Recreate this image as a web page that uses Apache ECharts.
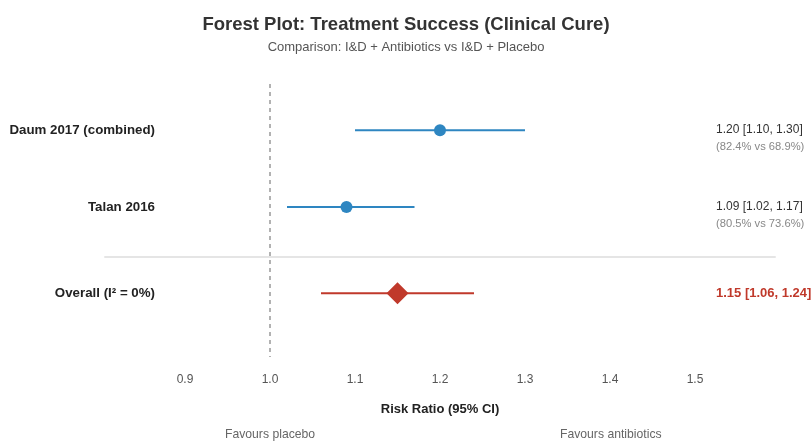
<!DOCTYPE html>
<html>
<head>
<meta charset="utf-8">
<script src="https://cdn.jsdelivr.net/npm/echarts@6/dist/echarts.min.js"></script>
<style>
  html, body { margin: 0; padding: 0; background: #fff; }
  #chart { width: 812px; height: 443px; }
</style>
</head>
<body>
<div id="chart"></div>
<script>
// study rows
var studies = ['Daum 2017 (combined)', 'Talan 2016'];
var rr = [1.20, 1.09];
var lower = [1.10, 1.02];
var upper = [1.30, 1.17];
var rates = ['(82.4% vs 68.9%)', '(80.5% vs 73.6%)'];
var rowPos = [1, 2];

// pooled estimate
var overallLabel = 'Overall (I\u00b2 = 0%)';
var overall = [1.06, 1.24, 1.15];
var overallPos = 3.12;
var sepPos = 2.65;

var xTicks = [0.9, 1.0, 1.1, 1.2, 1.3, 1.4, 1.5];

var BLUE = '#2e86c1';
var RED = '#c0392b';
var FONT = '"Liberation Sans", Arial, sans-serif';

function fmt(v) { return v.toFixed(2); }

var studyData = studies.map(function (s, i) {
    return [lower[i], upper[i], rr[i], rowPos[i]];
});

function renderStudy(params, api) {
    var i = params.dataIndex;
    var y = api.value(3);
    var a = api.coord([api.value(0), y]);
    var b = api.coord([api.value(1), y]);
    var c = api.coord([api.value(2), y]);
    var cs = params.coordSys;
    return {
        type: 'group',
        children: [
            { type: 'line', shape: { x1: a[0], y1: a[1], x2: b[0], y2: b[1] },
              style: { stroke: BLUE, lineWidth: 2 } },
            { type: 'circle', shape: { cx: c[0], cy: c[1], r: 6 },
              style: { fill: BLUE } },
            { type: 'text', x: cs.x + 55, y: c[1],
              style: { text: studies[i], align: 'right', verticalAlign: 'middle',
                       font: 'bold 13.3px ' + FONT, fill: '#222' } },
            { type: 'text', x: cs.x + 616, y: c[1],
              style: { text: fmt(rr[i]) + ' [' + fmt(lower[i]) + ', ' + fmt(upper[i]) + ']',
                       align: 'left', verticalAlign: 'middle',
                       font: '12px ' + FONT, fill: '#333' } },
            { type: 'text', x: cs.x + 616, y: c[1] + 17,
              style: { text: rates[i], align: 'left', verticalAlign: 'middle',
                       font: '11.2px ' + FONT, fill: '#888' } }
        ]
    };
}

function renderOverall(params, api) {
    var y = api.value(3);
    var a = api.coord([api.value(0), y]);
    var b = api.coord([api.value(1), y]);
    var c = api.coord([api.value(2), y]);
    var cs = params.coordSys;
    var d = 11;
    return {
        type: 'group',
        children: [
            { type: 'line', shape: { x1: a[0], y1: a[1], x2: b[0], y2: b[1] },
              style: { stroke: RED, lineWidth: 2 } },
            { type: 'polygon', shape: { points: [[c[0] - d, c[1]], [c[0], c[1] - d], [c[0] + d, c[1]], [c[0], c[1] + d]] },
              style: { fill: RED } },
            { type: 'text', x: cs.x + 55, y: c[1],
              style: { text: overallLabel, align: 'right', verticalAlign: 'middle',
                       font: 'bold 13.3px ' + FONT, fill: '#222' } },
            { type: 'text', x: cs.x + 616, y: c[1],
              style: { text: fmt(overall[2]) + ' [' + fmt(overall[0]) + ', ' + fmt(overall[1]) + ']',
                       align: 'left', verticalAlign: 'middle',
                       font: 'bold 13px ' + FONT, fill: RED } }
        ]
    };
}

var chart = echarts.init(document.getElementById('chart'));

var option = {
    backgroundColor: '#fff',
    animation: false,
    title: {
        text: 'Forest Plot: Treatment Success (Clinical Cure)',
        subtext: 'Comparison: I&D + Antibiotics vs I&D + Placebo',
        left: 'center',
        top: 10,
        itemGap: 7,
        textStyle: { fontFamily: FONT, fontSize: 18.5, fontWeight: 'bold', color: '#333' },
        subtextStyle: { fontFamily: FONT, fontSize: 13, color: '#555' }
    },
    grid: { left: 100, right: 32, top: 84, bottom: 86 },
    xAxis: {
        type: 'value',
        min: 0.8,
        max: 1.6,
        interval: 0.1,
        name: 'Risk Ratio (95% CI)',
        nameLocation: 'middle',
        nameGap: 46,
        nameTextStyle: { fontFamily: FONT, fontSize: 13, fontWeight: 'bold', color: '#222' },
        axisLine: { show: false },
        axisTick: { show: false },
        splitLine: { show: false },
        axisLabel: {
            margin: 17,
            fontFamily: FONT,
            fontSize: 12,
            color: '#555',
            showMinLabel: false,
            showMaxLabel: false,
            formatter: function (v) {
                var t = Math.round(v * 10) / 10;
                return xTicks.indexOf(t) >= 0 ? t.toFixed(1) : '';
            }
        }
    },
    yAxis: {
        type: 'value',
        inverse: true,
        min: 0.4,
        max: 3.95,
        show: false
    },
    series: [
        {
            type: 'line',
            data: [[0.805, sepPos], [1.595, sepPos]],
            symbol: 'none',
            silent: true,
            lineStyle: { color: '#dddddd', width: 1.5 },
            markLine: {
                silent: true,
                symbol: 'none',
                label: { show: false },
                lineStyle: { color: '#999', type: [4, 4], width: 1.5 },
                data: [{ xAxis: 1.0 }]
            }
        },
        {
            type: 'custom',
            renderItem: renderStudy,
            data: studyData,
            z: 3
        },
        {
            type: 'custom',
            renderItem: renderOverall,
            data: [[overall[0], overall[1], overall[2], overallPos]],
            z: 3
        }
    ],
    graphic: [
        { type: 'text', left: 225, top: 429,
          style: { text: 'Favours placebo', font: '12.2px ' + FONT, fill: '#666' } },
        { type: 'text', left: 560, top: 429,
          style: { text: 'Favours antibiotics', font: '12.2px ' + FONT, fill: '#666' } }
    ]
};

chart.setOption(option);
</script>
</body>
</html>
